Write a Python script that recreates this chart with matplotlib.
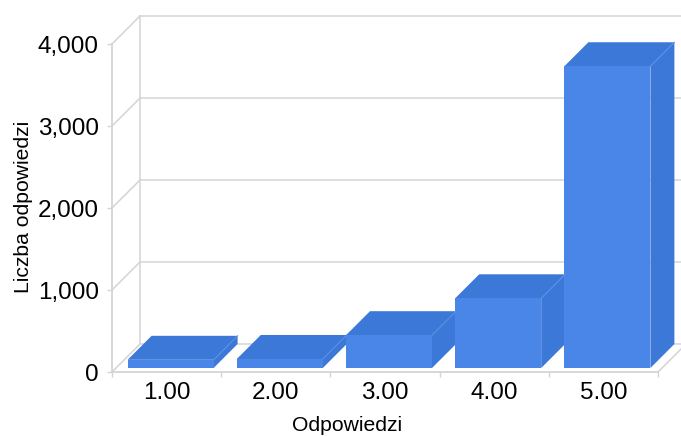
import matplotlib
matplotlib.use('Agg')
import matplotlib.pyplot as plt
from matplotlib.patches import Polygon
from matplotlib.ticker import FuncFormatter

plt.rcParams['font.family'] = ['Liberation Sans', 'DejaVu Sans']

categories = ['1.00', '2.00', '3.00', '4.00', '5.00']
counts = [100, 110, 400, 850, 3680]
y_ticks = [0, 1000, 2000, 3000, 4000]

W, H = 681, 436
LEFT, RIGHT, TOP, BOTTOM = 112, 658, 44, 372

GRID = '#d4d4d4'
FRONT = '#4a86e8'
DARK = '#3c78d8'
EDGE = '#5b8fe3'

fig = plt.figure(figsize=(W / 100, H / 100), dpi=100)
ax = fig.add_axes([LEFT / W, 1 - BOTTOM / H, (RIGHT - LEFT) / W, (BOTTOM - TOP) / H])
ax.set_xlim(0, len(categories))
ax.set_ylim(0, 4000)

# pixels to data units, the 3d look is all done by shifting
px_x = len(categories) / (RIGHT - LEFT)
px_y = 4000 / (BOTTOM - TOP)
wall_dx, wall_dy = 28 * px_x, 28 * px_y
bar_shift_x, bar_shift_y = 4 * px_x, 4 * px_y
bar_dx, bar_dy = 24 * px_x, 24 * px_y
bar_width = 86 * px_x

# walls and grid
n = len(categories)
for v in y_ticks:
    ax.plot([0, wall_dx], [v, v + wall_dy], color=GRID, lw=1.1, clip_on=False, zorder=1)
    ax.plot([wall_dx, n + wall_dx], [v + wall_dy, v + wall_dy], color=GRID, lw=1.1, clip_on=False, zorder=1)
ax.plot([wall_dx, wall_dx], [wall_dy, 4000 + wall_dy], color=GRID, lw=1.1, clip_on=False, zorder=1)
ax.plot([n, n + wall_dx], [0, wall_dy], color=GRID, lw=1.1, clip_on=False, zorder=1)

# bars
for i, v in enumerate(counts):
    x0 = i + 0.5 - bar_width / 2 + bar_shift_x
    x1 = x0 + bar_width
    y0 = bar_shift_y
    y1 = y0 + v
    ax.add_patch(Polygon([(x1, y0), (x1 + bar_dx, y0 + bar_dy), (x1 + bar_dx, y1 + bar_dy), (x1, y1)],
                         facecolor=DARK, edgecolor='none', clip_on=False, zorder=3))
    ax.add_patch(Polygon([(x0, y1), (x1, y1), (x1 + bar_dx, y1 + bar_dy), (x0 + bar_dx, y1 + bar_dy)],
                         facecolor=DARK, edgecolor='none', clip_on=False, zorder=3))
    ax.add_patch(Polygon([(x0, y0), (x1, y0), (x1, y1), (x0, y1)],
                         facecolor=FRONT, edgecolor='none', clip_on=False, zorder=4))
    ax.plot([x1, x1 + bar_dx], [y1, y1 + bar_dy], color=EDGE, lw=0.7, clip_on=False, zorder=5)

# axes
for side in ['top', 'right']:
    ax.spines[side].set_visible(False)
for side in ['left', 'bottom']:
    ax.spines[side].set_color(GRID)
    ax.spines[side].set_linewidth(1.3)

ax.set_yticks(y_ticks)
ax.yaxis.set_major_formatter(FuncFormatter(lambda v, p: f'{int(v):,}'))
ax.tick_params(axis='y', colors=GRID, labelcolor='black', labelsize=17.5, length=3.6, width=1, pad=6)

ax.set_xticks(range(n + 1))
ax.set_xticklabels([])
ax.set_xticks([i + 0.5 for i in range(n)], minor=True)
ax.set_xticklabels(categories, minor=True)
ax.tick_params(axis='x', which='major', colors=GRID, length=3.6, width=1)
ax.tick_params(axis='x', which='minor', length=0, labelsize=17.5, pad=7)

ax.set_xlabel('Odpowiedzi', fontsize=15.2)
ax.set_ylabel('Liczba odpowiedzi', fontsize=15.2)
ax.xaxis.set_label_coords(0.43, -0.134)
ax.yaxis.set_label_coords(-0.145, 0.503)

fig.savefig('out.png', dpi=100)
